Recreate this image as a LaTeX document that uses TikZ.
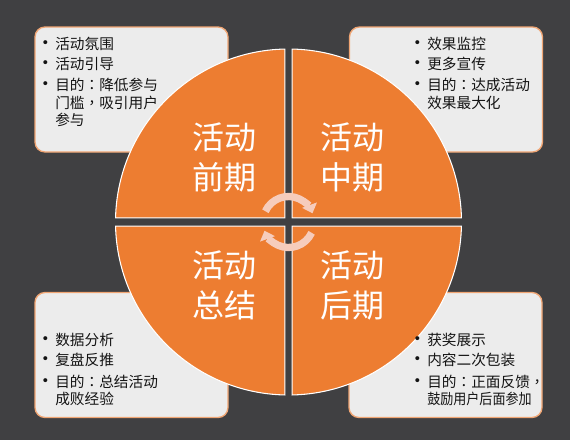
\documentclass[tikz,border=0pt]{standalone}
\usepackage{fontspec}
\usepackage{graphicx}
\setmainfont{Noto Sans CJK SC}
\newfontfamily\tcpunct{Noto Sans CJK TC}
\newfontfamily\bulfont{Liberation Sans}
\newcommand\pcolon{{\tcpunct ：}}
\newcommand\pcomma{{\tcpunct ，}}
\usetikzlibrary{calc,arrows.meta}
\definecolor{bgc}{RGB}{64,64,66}
\definecolor{orng}{RGB}{237,125,49}
\definecolor{boxfill}{RGB}{236,236,236}
\definecolor{boxline}{RGB}{240,165,115}
\definecolor{arrc}{RGB}{246,204,188}
\definecolor{txtc}{RGB}{20,20,20}
\begin{document}
\begin{tikzpicture}[x=0.75pt,y=-0.75pt,
  infobox/.style={draw=boxline, line width=1pt, fill=boxfill, rounded corners=7.5pt,
    minimum width=144.75pt, minimum height=93.75pt, inner sep=0pt},
  quad/.style={fill=orng, draw=white, line width=0.8pt},
  bigtxt/.style={text=white, align=center, inner sep=0pt,
    font=\fontsize{24pt}{30pt}\selectfont},
  smalltxt/.style={text=txtc, anchor=west, inner sep=0pt,
    font=\fontsize{11pt}{13pt}\selectfont},
  bul/.style={text=txtc, inner sep=0pt, font=\bulfont\fontsize{11pt}{13pt}\selectfont},
  cyc/.style={draw=arrc, line width=5.5pt, -{Triangle[width=11.5pt,length=6.5pt]}}]
% background
\fill[bgc] (0,0) rectangle (570,440);
\useasboundingbox (0,0) rectangle (570,440);
% info boxes
\node[infobox] (tlbox) at (131.5,89.5) {};
\node[infobox] (trbox) at (446,89.5) {};
\node[infobox] (blbox) at (131.5,355) {};
\node[infobox] (brbox) at (445.5,355) {};
% circle quadrants
\def\R{173}
\pgfmathsetmacro\ga{asin(3.7/173)}
\pgfmathsetmacro\gb{asin(4.2/173)}
\coordinate (C) at (288.5,222);
\path[quad] ($(C)+(-3.7,-4.2)$) -- ($(C)+(270-\ga:\R)$)
  arc[start angle=270-\ga, end angle=180+\gb, radius=\R] -- cycle;
\path[quad] ($(C)+(3.7,-4.2)$) -- ($(C)+(270+\ga:\R)$)
  arc[start angle=270+\ga, end angle=360-\gb, radius=\R] -- cycle;
\path[quad] ($(C)+(3.7,4.2)$) -- ($(C)+(\gb:\R)$)
  arc[start angle=\gb, end angle=90-\ga, radius=\R] -- cycle;
\path[quad] ($(C)+(-3.7,4.2)$) -- ($(C)+(90+\ga:\R)$)
  arc[start angle=90+\ga, end angle=180-\gb, radius=\R] -- cycle;
% quadrant titles
\node[bigtxt] (q1) at (224,157.5) {活动\\前期};
\node[bigtxt] (q2) at (352,157.5) {活动\\中期};
\node[bigtxt] (q3) at (224,285) {活动\\总结};
\node[bigtxt] (q4) at (352,285) {活动\\后期};
% cycle arrows
\draw[cyc] ($(C)+(205:25.5)$) arc[start angle=205, end angle=340, radius=25.5];
\draw[cyc] ($(C)+(25:25.5)$) arc[start angle=25, end angle=160, radius=25.5];
% top-left text
\node[bul] (b11) at (45.5,44) {•};
\node[bul] (b12) at (45.5,64) {•};
\node[bul] (b13) at (45.5,85) {•};
\node[smalltxt] (s11) at (55,44) {活动氛围};
\node[smalltxt] (s12) at (55,64) {活动引导};
\node[smalltxt] (s13) at (55,85) {目的\pcolon 降低参与};
\node[smalltxt] (s14) at (55,102.5) {门槛\pcomma 吸引用户};
\node[smalltxt] (s15) at (55,120) {参与};
% top-right text
\node[bul] (b21) at (417.5,44) {•};
\node[bul] (b22) at (417.5,64) {•};
\node[bul] (b23) at (417.5,85) {•};
\node[smalltxt] (s21) at (427,44) {效果监控};
\node[smalltxt] (s22) at (427,64) {更多宣传};
\node[smalltxt] (s23) at (427,85) {目的\pcolon 达成活动};
\node[smalltxt] (s24) at (427,103) {效果最大化};
% bottom-left text
\node[bul] (b31) at (45.5,340) {•};
\node[bul] (b32) at (45.5,360) {•};
\node[bul] (b33) at (45.5,382) {•};
\node[smalltxt] (s31) at (55,340) {数据分析};
\node[smalltxt] (s32) at (55,360) {复盘反推};
\node[smalltxt] (s33) at (55,382) {目的\pcolon 总结活动};
\node[smalltxt] (s34) at (55,399) {成败经验};
% bottom-right text
\node[bul] (b41) at (417.5,340) {•};
\node[bul] (b42) at (417.5,360) {•};
\node[bul] (b43) at (417.5,382) {•};
\node[smalltxt] (s41) at (427,340) {获奖展示};
\node[smalltxt] (s42) at (427,360) {内容二次包装};
\node[smalltxt] (s43) at (427,382) {目的\pcolon 正面反馈\pcomma};
\node[smalltxt] (s44) at (427,398.5) {\scalebox{0.89}[1]{鼓励用户后面参加}};
\end{tikzpicture}
\end{document}
